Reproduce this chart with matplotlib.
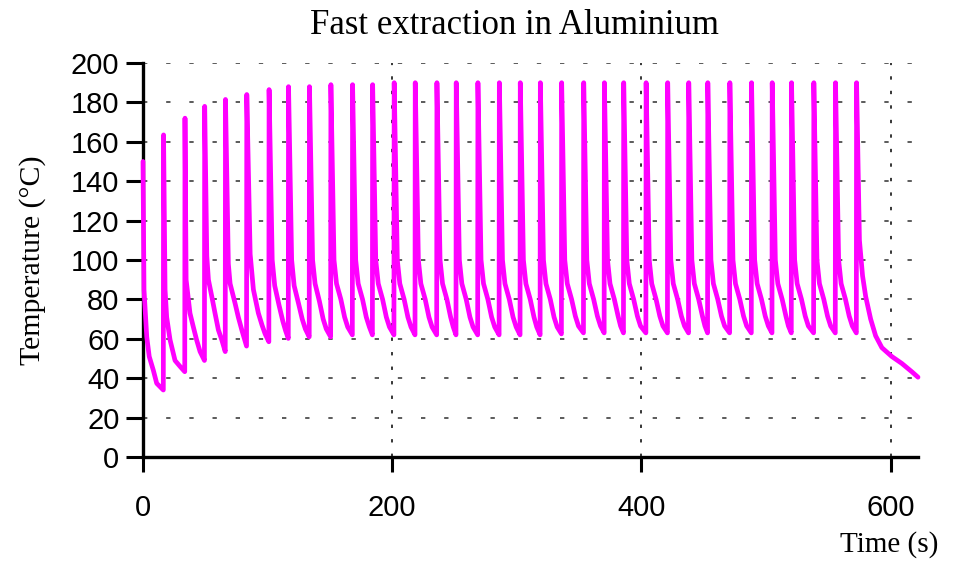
import matplotlib.pyplot as plt
from matplotlib.ticker import MultipleLocator

# time (s) and temperature (deg C), one row per cooling cycle
time_s = [
    0.0, 0.8, 3.0, 5.0, 8.3, 11.0, 16.3,
    16.5, 17.7, 19.0, 21.7, 25.7, 29.7, 33.5,
    33.7, 34.6, 37.7, 40.4, 43.0, 45.8, 49.3,
    49.5, 51.2, 52.5, 55.2, 57.8, 60.5, 63.2, 66.0,
    66.2, 68.5, 69.9, 73.9, 76.5, 79.3, 83.1,
    83.3, 86.0, 88.6, 92.6, 95.5, 98.0, 101.0,
    101.2, 103.7, 105.7, 109.2, 112.2, 114.5, 116.6,
    116.8, 119.3, 121.3, 124.8, 127.8, 130.3, 133.4,
    133.6, 136.1, 138.1, 141.6, 144.6, 147.1, 150.6,
    150.8, 153.3, 155.3, 158.8, 161.8, 164.3, 168.0,
    168.2, 170.7, 172.7, 176.2, 179.2, 181.7, 184.1,
    184.3, 186.8, 188.8, 192.3, 195.3, 197.8, 201.4,
    201.6, 204.1, 206.1, 209.6, 212.6, 215.1, 218.3,
    218.5, 221.0, 223.0, 226.5, 229.5, 232.0, 235.7,
    235.9, 238.4, 240.4, 243.9, 246.9, 249.0, 251.2,
    251.4, 253.9, 255.9, 259.4, 262.4, 264.9, 268.6,
    268.8, 271.3, 273.3, 276.8, 279.8, 282.3, 285.8,
    286.0, 288.5, 290.5, 294.0, 297.0, 299.5, 302.6,
    302.8, 305.3, 307.3, 310.8, 313.8, 316.0, 318.7,
    318.9, 321.4, 323.4, 326.9, 329.9, 332.4, 335.8,
    336.0, 338.5, 340.5, 344.0, 347.0, 349.5, 353.5,
    353.7, 356.2, 358.2, 361.7, 364.7, 367.2, 370.1,
    370.3, 372.8, 374.8, 378.3, 381.3, 383.3, 385.6,
    385.8, 388.3, 390.3, 393.8, 396.8, 399.3, 403.6,
    403.8, 406.3, 408.3, 411.8, 414.8, 417.3, 420.9,
    421.1, 423.6, 425.6, 429.1, 432.1, 434.6, 437.8,
    438.0, 440.5, 442.5, 446.0, 449.0, 451.0, 453.1,
    453.3, 455.8, 457.8, 461.3, 464.3, 466.8, 470.8,
    471.0, 473.5, 475.5, 479.0, 482.0, 484.5, 488.2,
    488.4, 490.9, 492.9, 496.4, 499.4, 501.9, 504.8,
    505.0, 507.5, 509.5, 513.0, 516.0, 518.0, 520.3,
    520.5, 523.0, 525.0, 528.5, 531.5, 534.0, 538.2,
    538.4, 540.9, 542.9, 546.4, 549.4, 551.9, 555.6,
    555.8, 558.3, 560.3, 563.8, 566.8, 569.3, 572.5,
    572.7, 575.0, 577.5, 580.0, 584.0, 588.0, 593.0, 601.0, 609.0, 617.0, 622.0,
]
temp_c = [
    150, 85, 61, 51, 44, 37.4, 34,
    163.5, 85, 71, 59.5, 49, 46, 43.3,
    172, 90, 73, 66, 59.5, 53.5, 49,
    178, 102, 90, 81.5, 73, 64.5, 59.5, 53.5,
    181.5, 98, 88, 78, 71, 64.5, 56.3,
    184, 103, 85, 73, 67, 62.5, 58.5,
    186.5, 100, 87, 77, 69, 64, 60.2,
    188, 100, 87, 78, 70, 65, 61,
    188, 100, 88, 79, 70, 65, 61,
    189, 100, 88, 80, 71, 66, 62,
    189, 100, 88, 80, 71, 66, 62,
    189, 100, 88, 80, 71, 66, 62,
    190, 100, 88, 80, 71, 66, 62,
    190, 100, 88, 80, 71, 66, 62,
    190, 100, 88, 80, 71, 66, 62,
    190, 100, 88, 80, 71, 66, 62,
    190, 100, 88, 80, 71, 66, 62,
    190, 100, 88, 80, 71, 66, 62,
    190, 100, 88, 80, 71, 66, 62,
    190, 100, 88, 80, 71, 66, 62.5,
    190, 100, 88, 80, 71.5, 66.5, 63,
    190, 100, 88, 80, 71.5, 66.5, 63,
    190, 100, 88, 80, 71.5, 66.5, 63,
    190, 100, 88, 80, 71.5, 66.5, 63,
    190, 100, 88, 80, 71.5, 66.5, 63,
    190, 100, 88, 80, 71.5, 66.5, 63,
    190, 100, 88, 80, 71.5, 66.5, 63,
    190, 100, 88, 80, 71.5, 66.5, 63,
    190, 100, 88, 80, 71.5, 66.5, 63,
    190, 100, 88, 80, 71.5, 66.5, 63,
    190, 100, 88, 80, 71.5, 66.5, 63,
    190, 100, 88, 80, 71.5, 66.5, 63,
    190, 100, 88, 80, 71.5, 66.5, 63,
    190, 100, 88, 80, 71.5, 66.5, 63,
    190, 110, 92, 81.5, 70, 61.5, 55.5, 51, 47.5, 43.3, 40.5,
]

fig = plt.figure(figsize=(9.6, 5.62), dpi=100)
ax = fig.add_axes([143/960, 1 - 457/562, 775/960, 394/562])

ax.plot(time_s, temp_c, color='#ff00ff', lw=3.4, solid_joinstyle='round',
        solid_capstyle='round', zorder=3, clip_on=False)

ax.set_xlim(0, 622)
ax.set_ylim(0, 200)
ax.xaxis.set_major_locator(MultipleLocator(200))
ax.yaxis.set_major_locator(MultipleLocator(20))

# dotted grid, horizontal every 20, vertical every 200
for v in range(20, 201, 20):
    ax.axhline(v, color='0.25', lw=1.2, ls=(0, (2.6, 11.3)), zorder=0)
for v in (200, 400, 600):
    ax.axvline(v, color='black', lw=1.1, ls=(0, (2.2, 7.3)), zorder=0)

for s in ('top', 'right'):
    ax.spines[s].set_visible(False)
for s in ('left', 'bottom'):
    ax.spines[s].set_linewidth(2.4)

ax.tick_params(axis='y', direction='out', length=12, width=2.2, pad=5, labelsize=21)
ax.tick_params(axis='x', direction='out', length=11, width=2.2, pad=16, labelsize=21)
for lab in ax.get_xticklabels() + ax.get_yticklabels():
    lab.set_family('Liberation Sans')

fig.text(514/960, 1 - 25/562, 'Fast extraction in Aluminium', family='Liberation Serif',
         fontsize=25, ha='center', va='center')
fig.text(938/960, 1 - 545/562, 'Time (s)', family='Liberation Serif',
         fontsize=21, ha='right', va='center')
fig.text(33/960, 1 - 260/562, 'Temperature (\u00b0C)', family='Liberation Serif',
         fontsize=21.5, ha='center', va='center', rotation=90)

fig.savefig('out.png', dpi=100)
